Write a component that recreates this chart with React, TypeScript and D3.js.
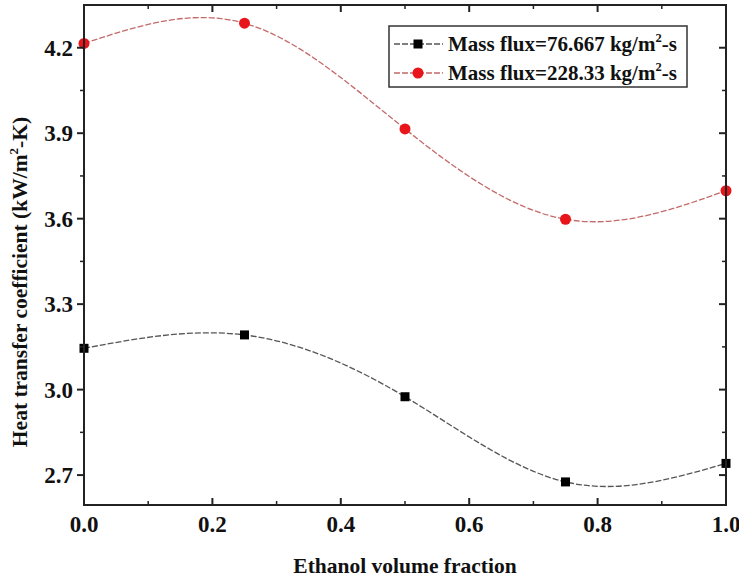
import React from "react";
import * as d3 from "d3";

const fractions = [0, 0.25, 0.5, 0.75, 1.0];
const lowFlux = [3.145, 3.192, 2.975, 2.676, 2.741];
const highFlux = [4.215, 4.286, 3.915, 3.598, 3.698];
const xTicks = [0, 0.2, 0.4, 0.6, 0.8, 1.0];
const xMinor = [0.1, 0.3, 0.5, 0.7, 0.9];
const yTicks = [2.7, 3.0, 3.3, 3.6, 3.9, 4.2];
const yMinor = [2.85, 3.15, 3.45, 3.75, 4.05];
const legendLabels = ["Mass flux=76.667 kg/m", "Mass flux=228.33 kg/m"];

const W = 739;
const H = 582;
const L = 84, R = 726, T = 5, B = 505;
const FONT = "'Liberation Serif', 'Times New Roman', serif";

export default function App() {
  const x = d3.scaleLinear().domain([0, 1]).range([L, R]);
  const y = d3.scaleLinear().domain([2.595, 4.35]).range([B, T]);
  const line = d3
    .line<[number, number]>()
    .x((d) => x(d[0]))
    .y((d) => y(d[1]))
    .curve(d3.curveNatural);
  const lowPts: [number, number][] = fractions.map((f, i) => [f, lowFlux[i]]);
  const highPts: [number, number][] = fractions.map((f, i) => [f, highFlux[i]]);

  const axisColor = "#222";
  const blackLine = "#555";
  const redLine = "#c46a6a";
  const red = "#e8161b";

  return (
    <svg width={W} height={H} style={{ position: "absolute", left: 0, top: 0, background: "#fff" }}>
      <rect x={0} y={0} width={W} height={H} fill="#fff" />
      <defs>
        <clipPath id="plot">
          <rect x={L} y={T} width={R - L} height={B - T} />
        </clipPath>
      </defs>

      {/* curves */}
      <path d={line(lowPts) || ""} fill="none" stroke={blackLine} strokeWidth={1.3} strokeDasharray="6,2" clipPath="url(#plot)" />
      <path d={line(highPts) || ""} fill="none" stroke={redLine} strokeWidth={1.3} strokeDasharray="6,2" clipPath="url(#plot)" />

      {/* markers */}
      {lowPts.map((p, i) => (
        <rect key={"b" + i} x={x(p[0]) - 4.5} y={y(p[1]) - 4.5} width={9} height={9} fill="#000" />
      ))}
      {highPts.map((p, i) => (
        <circle key={"r" + i} cx={x(p[0])} cy={y(p[1])} r={5.5} fill={red} />
      ))}

      {/* frame */}
      <rect x={L} y={T} width={R - L} height={B - T} fill="none" stroke={axisColor} strokeWidth={2} />

      {/* x ticks bottom & top (inward) */}
      {xTicks.map((t) => (
        <g key={"xt" + t}>
          <line x1={x(t)} x2={x(t)} y1={B} y2={B - 7} stroke={axisColor} strokeWidth={2} />
          <line x1={x(t)} x2={x(t)} y1={T} y2={T + 7} stroke={axisColor} strokeWidth={2} />
          <text x={x(t)} y={532} textAnchor="middle" fontFamily={FONT} fontWeight="bold" fontSize={23} fill="#111">
            {t.toFixed(1)}
          </text>
        </g>
      ))}
      {xMinor.map((t) => (
        <g key={"xm" + t}>
          <line x1={x(t)} x2={x(t)} y1={B} y2={B - 4} stroke={axisColor} strokeWidth={1.5} />
          <line x1={x(t)} x2={x(t)} y1={T} y2={T + 4} stroke={axisColor} strokeWidth={1.5} />
        </g>
      ))}

      {/* y ticks left (outward) & right (inward) */}
      {yTicks.map((t) => (
        <g key={"yt" + t}>
          <line x1={L} x2={L - 7} y1={y(t)} y2={y(t)} stroke={axisColor} strokeWidth={2} />
          <line x1={R} x2={R - 7} y1={y(t)} y2={y(t)} stroke={axisColor} strokeWidth={2} />
          <text x={73} y={y(t) + 8} textAnchor="end" fontFamily={FONT} fontWeight="bold" fontSize={23} fill="#111">
            {t.toFixed(1)}
          </text>
        </g>
      ))}
      {yMinor.map((t) => (
        <g key={"ym" + t}>
          <line x1={L} x2={L - 4} y1={y(t)} y2={y(t)} stroke={axisColor} strokeWidth={1.5} />
          <line x1={R} x2={R - 4} y1={y(t)} y2={y(t)} stroke={axisColor} strokeWidth={1.5} />
        </g>
      ))}

      {/* axis titles */}
      <text x={(L + R) / 2} y={573} textAnchor="middle" fontFamily={FONT} fontWeight="bold" fontSize={21.5} fill="#111">
        Ethanol volume fraction
      </text>
      <text
        transform={`translate(27, ${(T + B) / 2 + 27}) rotate(-90)`}
        textAnchor="middle"
        fontFamily={FONT}
        fontWeight="bold"
        fontSize={21.5}
        fill="#111"
      >
        Heat transfer coefficient (kW/m
        <tspan fontSize={13} dy={-9}>2</tspan>
        <tspan dy={9}>-K)</tspan>
      </text>

      {/* legend */}
      <g>
        <rect x={389} y={26} width={298} height={61} fill="#fff" stroke="#333" strokeWidth={1.5} />
        {[0, 1].map((i) => {
          const ly = 44 + i * 29;
          const c = i === 0 ? blackLine : redLine;
          return (
            <g key={"lg" + i}>
              <line x1={394} x2={443} y1={ly} y2={ly} stroke={c} strokeWidth={1.3} strokeDasharray="6,2" />
              {i === 0 ? (
                <rect x={418 - 4.5} y={ly - 4.5} width={9} height={9} fill="#000" />
              ) : (
                <circle cx={418} cy={ly} r={5.5} fill={red} />
              )}
              <text x={448} y={ly + 7} fontFamily={FONT} fontWeight="bold" fontSize={21} fill="#111">
                {legendLabels[i]}
                <tspan fontSize={12.5} dy={-9}>2</tspan>
                <tspan dy={9}>-s</tspan>
              </text>
            </g>
          );
        })}
      </g>
    </svg>
  );
}
